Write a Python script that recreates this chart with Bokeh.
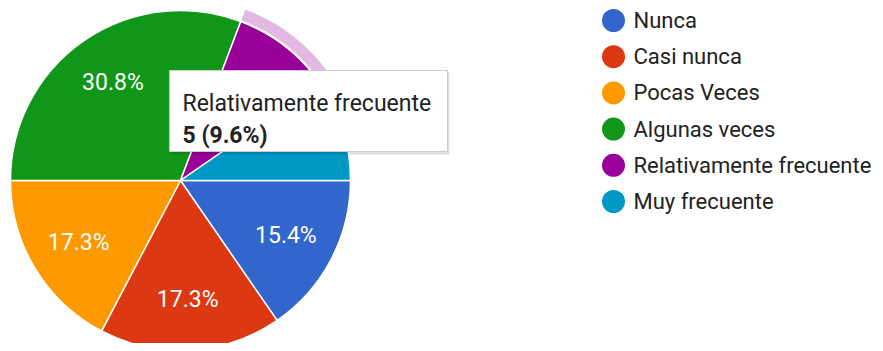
import math
from bokeh.plotting import figure
from bokeh.models import Range1d
from bokeh.core.properties import value
from bokeh.embed import file_html
from bokeh.resources import INLINE

# ---- data ----
categories = ["Nunca", "Casi nunca", "Pocas Veces", "Algunas veces",
              "Relativamente frecuente", "Muy frecuente"]
counts = [8, 9, 9, 16, 5, 5]
colors = ["#3366cc", "#dc3912", "#ff9900", "#109618", "#990099", "#0099c6"]
hover_index = 4  # highlighted slice (tooltip)

# ---- layout (screenshot pixel coordinates) ----
W, H = 875, 343
cx, cy, R = 180, 180, 170
start_deg = 90.0  # first slice begins at 3 o'clock (clockwise from 12)
FONT = "Roboto"

p = figure(width=W, height=H, output_backend="svg", toolbar_location=None,
           x_range=Range1d(0, W), y_range=Range1d(H, 0),
           min_border=0, outline_line_color=None)
p.axis.visible = False
p.grid.visible = False
p.background_fill_color = "white"
p.border_fill_color = "white"

total = sum(counts)
theta = start_deg
slices = []
for c in counts:
    span = 360.0 * c / total
    slices.append((theta, theta + span))
    theta += span


def vis(t):
    # clockwise-from-12 degrees -> visual ccw-from-3 radians
    return math.radians(90.0 - t)


s_start = [vis(b) for a, b in slices]
s_end = [vis(a) for a, b in slices]
p.wedge(x=[cx] * len(counts), y=[cy] * len(counts), radius=R,
        start_angle=s_start, end_angle=s_end, direction="anticlock",
        fill_color=colors, line_color="white", line_width=1.5)

# hover ring on highlighted slice
a, b = slices[hover_index]
p.annular_wedge(x=[cx], y=[cy], inner_radius=R + 1.5, outer_radius=R + 13,
                start_angle=[vis(b)], end_angle=[vis(a)], direction="anticlock",
                fill_color=colors[hover_index], fill_alpha=0.28, line_color=None)

# percentage labels
lx, ly, lt = [], [], []
for (a, b), c in zip(slices, counts):
    pct = 100.0 * c / total
    if pct < 10:
        continue
    m = math.radians((a + b) / 2)
    lx.append(cx + 0.70 * R * math.sin(m))
    ly.append(cy - 0.70 * R * math.cos(m))
    lt.append(f"{pct:.1f}%")
p.text(x=lx, y=ly, text=lt, text_align="center", text_baseline="middle",
       text_color="white", text_font=value(FONT), text_font_size="23px")

# tooltip
tl, tr, tt, tb = 169, 447, 70, 151
p.quad(left=[tl + 2], right=[tr + 2], top=[tt + 2], bottom=[tb + 3],
       fill_color="#000000", fill_alpha=0.12, line_color=None)
p.quad(left=[tl], right=[tr], top=[tt], bottom=[tb],
       fill_color="white", line_color="#cccccc", line_width=1)
hc = counts[hover_index]
p.text(x=[182], y=[103], text=[categories[hover_index]], text_baseline="alphabetic",
       text_color="#222222", text_font=value(FONT), text_font_size="23px")
p.text(x=[182], y=[135], text=[f"{hc} ({100.0 * hc / total:.1f}%)"],
       text_baseline="alphabetic", text_color="#222222", text_font=value(FONT),
       text_font_size="23px", text_font_style="bold")

# legend
gx, gy0, gdy = 613, 20, 36.2
gys = [gy0 + i * gdy for i in range(len(categories))]
p.scatter(x=[gx] * len(categories), y=gys, size=23, marker="circle",
          fill_color=colors, line_color=None)
p.text(x=[gx + 20] * len(categories), y=gys, text=categories,
       text_baseline="middle", text_color="#222222", text_font=value(FONT),
       text_font_size="22px")

open("out.html", "w").write(file_html(p, INLINE))
